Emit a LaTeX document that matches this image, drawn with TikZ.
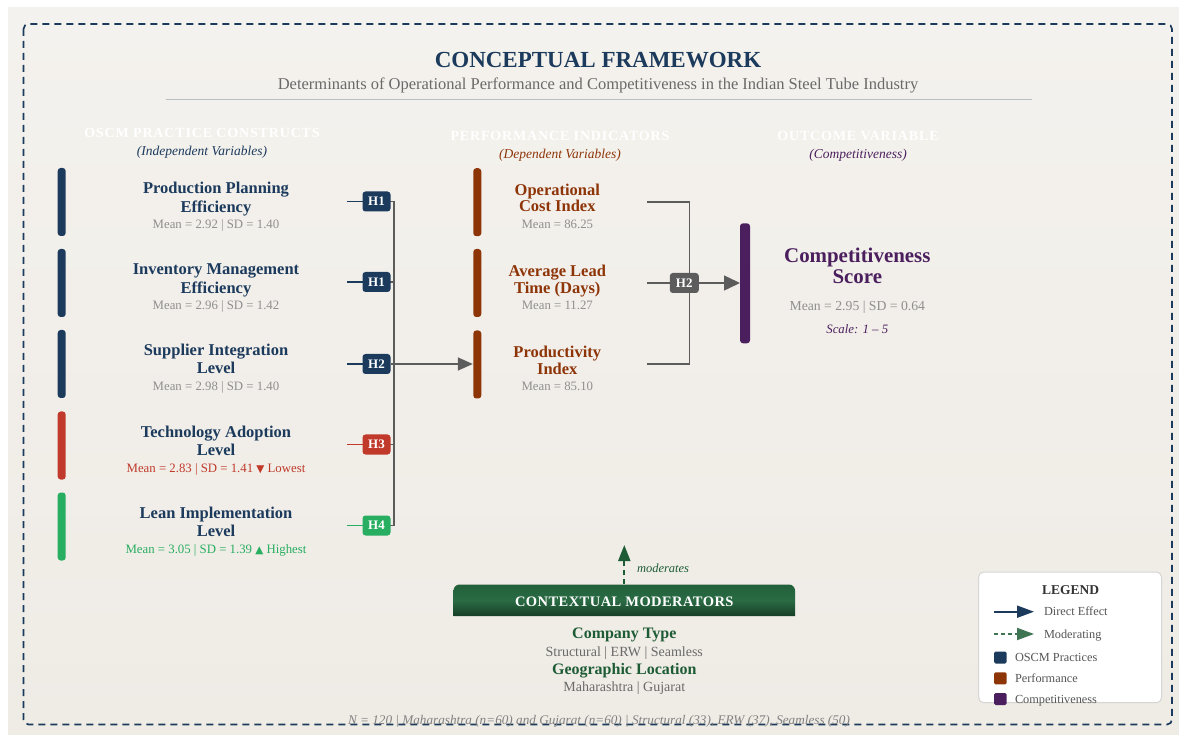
\documentclass[tikz,border=0pt]{standalone}
\usepackage{fontspec}
\setmainfont{Liberation Serif}
\newfontfamily\symfont{DejaVu Sans}
\usetikzlibrary{arrows.meta}

\definecolor{navy}{HTML}{1B3A5C}
\definecolor{lowred}{HTML}{C0392B}
\definecolor{highgreen}{HTML}{27AE60}
\definecolor{perfbrown}{HTML}{8E3508}
\definecolor{outpurple}{HTML}{4B1F5E}
\definecolor{statgray}{HTML}{8F8F8F}
\definecolor{subgray}{HTML}{6A6A6A}
\definecolor{conngray}{HTML}{5C5C5C}
\definecolor{modgreen}{HTML}{1E5C36}
\definecolor{modtop}{HTML}{22603A}
\definecolor{modmid}{HTML}{2A6B44}
\definecolor{modbot}{HTML}{163F26}
\definecolor{bgA}{HTML}{F4F2EE}
\definecolor{bgB}{HTML}{EFEBE5}
\definecolor{rulec}{HTML}{B8BEC6}
\definecolor{legtext}{HTML}{555555}
\definecolor{legborder}{HTML}{D6D6D6}

\begin{document}
\begin{tikzpicture}[x=1pt,y=-1pt,
  every node/.style={inner sep=0pt, outer sep=0pt},
  ctitle/.style={anchor=base, font=\bfseries\fontsize{16.5}{19}\selectfont},
  cstat/.style={anchor=base, font=\fontsize{12.8}{15}\selectfont, text=statgray},
  colhead/.style={anchor=base, text=white, font=\bfseries\fontsize{14}{16}\selectfont\addfontfeature{LetterSpace=6}},
  colsub/.style={anchor=base, font=\itshape\fontsize{13.5}{15}\selectfont},
  sidebar/.style={rectangle, rounded corners=3pt, minimum width=8pt},
  hbox/.style={rectangle, rounded corners=3pt, minimum width=28pt, minimum height=20pt, text=white, font=\bfseries\fontsize{13}{15}\selectfont},
  conn/.style={draw=conngray, line width=1.5pt},
  bigtip/.style={-{Triangle[length=15pt,width=13pt]}},
  legtxt/.style={anchor=base west, text=legtext, font=\fontsize{12.3}{14}\selectfont},
  modtxt/.style={anchor=base, text=modgreen, font=\bfseries\fontsize{16}{18}\selectfont},
  modsub/.style={anchor=base, text=subgray, font=\fontsize{14}{16}\selectfont},
]
\useasboundingbox (0,0) rectangle (1179,735);
\fill[white] (0,0) rectangle (1179,735);
\shade[top color=bgA, bottom color=bgB] (8,8) rectangle (1179,735);

% frame
\draw[navy, line width=1.7pt, dash pattern=on 7pt off 5pt, rounded corners=5pt] (23.5,24) rectangle (1172,724.5);

% heading
\node[anchor=base, text=navy, font=\bfseries\fontsize{23}{27}\selectfont] (title) at (598,67.6) {CONCEPTUAL FRAMEWORK};
\node[anchor=base, text=subgray, font=\fontsize{16.5}{19}\selectfont] (subtitle) at (598,90) {Determinants of Operational Performance and Competitiveness in the Indian Steel Tube Industry};
\draw[rulec, line width=1pt] (165.5,99.5) -- (1032,99.5);

% column headings
\node[colhead] (hdA) at (202,138) {OSCM PRACTICE CONSTRUCTS};
\node[colsub, text=navy] (sbA) at (202,155.5) {(Independent Variables)};
\node[colhead] (hdB) at (560,140.5) {PERFORMANCE INDICATORS};
\node[colsub, text=perfbrown] (sbB) at (560,158.5) {(Dependent Variables)};
\node[colhead] (hdC) at (858,140.5) {OUTCOME VARIABLE};
\node[colsub, text=outpurple] (sbC) at (858,158.5) {(Competitiveness)};

% OSCM practice constructs
\node[sidebar, fill=navy, minimum height=68pt] (b1) at (61.7,202) {};
\node[sidebar, fill=navy, minimum height=68pt] (b2) at (61.7,283) {};
\node[sidebar, fill=navy, minimum height=68pt] (b3) at (61.7,364) {};
\node[sidebar, fill=lowred, minimum height=68pt] (b4) at (61.7,445.5) {};
\node[sidebar, fill=highgreen, minimum height=68pt] (b5) at (61.7,526.5) {};

\node[ctitle, text=navy] (c1a) at (216,193.8) {Production Planning};
\node[ctitle, text=navy] (c1b) at (216,212.2) {Efficiency};
\node[cstat] (c1s) at (216,228.5) {Mean = 2.92 | SD = 1.40};

\node[ctitle, text=navy] (c2a) at (216,274.8) {Inventory Management};
\node[ctitle, text=navy] (c2b) at (216,293.2) {Efficiency};
\node[cstat] (c2s) at (216,309.9) {Mean = 2.96 | SD = 1.42};

\node[ctitle, text=navy] (c3a) at (216,355.8) {Supplier Integration};
\node[ctitle, text=navy] (c3b) at (216,374) {Level};
\node[cstat] (c3s) at (216,390.7) {Mean = 2.98 | SD = 1.40};

\node[ctitle, text=navy] (c4a) at (216,437.8) {Technology Adoption};
\node[ctitle, text=navy] (c4b) at (216,455.5) {Level};
\node[cstat, text=lowred] (c4s) at (216,472.2) {Mean = 2.83 | SD = 1.41 {\symfont\fontsize{10.5}{12}\selectfont ▼} Lowest};

\node[ctitle, text=navy] (c5a) at (216,518.8) {Lean Implementation};
\node[ctitle, text=navy] (c5b) at (216,536.8) {Level};
\node[cstat, text=highgreen] (c5s) at (216,553.5) {Mean = 3.05 | SD = 1.39 {\symfont\fontsize{10.5}{12}\selectfont ▲} Highest};

% hypothesis paths into the bus
\coordinate (s1) at (347,201.5);
\coordinate (s2) at (347,282);
\coordinate (s3) at (347,364);
\coordinate (s4) at (347,444.5);
\coordinate (s5) at (347,525.5);
\coordinate (bus1) at (394,201.5);
\coordinate (bus2) at (394,282);
\coordinate (bus3) at (394,364);
\coordinate (bus4) at (394,444.5);
\coordinate (bus5) at (394,525.5);

% performance indicators
\node[sidebar, fill=perfbrown, minimum height=68pt] (m1) at (477.3,202.2) {};
\node[sidebar, fill=perfbrown, minimum height=68pt] (m2) at (477.3,283) {};
\node[sidebar, fill=perfbrown, minimum height=68pt] (m3) at (477.3,364.5) {};

\draw[conn] (bus1) -- (bus5);
\draw[conn] (bus1) -- ++(-4,0);
\draw[conn] (bus2) -- ++(-4,0);
\draw[conn] (bus4) -- ++(-4,0);
\draw[conn] (bus5) -- ++(-4,0);
\draw[conn, bigtip, shorten >=0.5pt] (bus3) -- (bus3 -| m3.west);

\node[hbox, fill=navy] (h1) at (376.5,201.5) {H1};
\node[hbox, fill=navy] (h2) at (376.5,282) {H1};
\node[hbox, fill=navy] (h3) at (376.5,364) {H2};
\node[hbox, fill=lowred] (h4) at (376.5,444.5) {H3};
\node[hbox, fill=highgreen] (h5) at (376.5,525.5) {H4};

\draw[navy, line width=1.5pt] (s1) -- (h1.west);
\draw[navy, line width=1.5pt] (s2) -- (h2.west);
\draw[navy, line width=1.5pt] (s3) -- (h3.west);
\draw[lowred, line width=1.5pt] (s4) -- (h4.west);
\draw[highgreen, line width=1.5pt] (s5) -- (h5.west);
\draw[conn] (h1.east) -- (bus1);
\draw[conn] (h2.east) -- (bus2);
\draw[conn] (h3.east) -- (bus3);
\draw[conn] (h4.east) -- (bus4);
\draw[conn] (h5.east) -- (bus5);

\node[ctitle, text=perfbrown] (p1a) at (557.3,195.3) {Operational};
\node[ctitle, text=perfbrown] (p1b) at (557.3,212) {Cost Index};
\node[cstat] (p1s) at (557.3,228.2) {Mean = 86.25};

\node[ctitle, text=perfbrown] (p2a) at (557.3,276.3) {Average Lead};
\node[ctitle, text=perfbrown] (p2b) at (557.3,293.6) {Time (Days)};
\node[cstat] (p2s) at (557.3,309.9) {Mean = 11.27};

\node[ctitle, text=perfbrown] (p3a) at (557.3,357.6) {Productivity};
\node[ctitle, text=perfbrown] (p3b) at (557.3,374.6) {Index};
\node[cstat] (p3s) at (557.3,390.9) {Mean = 85.10};

% outcome
\node[sidebar, fill=outpurple, minimum width=10pt, minimum height=120pt] (cbar) at (745,283.3) {};

\coordinate (r1) at (647,202);
\coordinate (r2) at (647,283);
\coordinate (r3) at (647,364);
\draw[conn] (r1) -- ++(42.3,0) |- (r3);
\node[hbox, fill=conngray, minimum width=29pt] (hh) at (684.3,283) {H2};
\draw[conn] (r2) -- (hh.west);
\draw[conn, -{Triangle[length=16pt,width=15pt]}] (hh.east) -- (hh.east -| cbar.west);

\node[anchor=base, text=outpurple, font=\bfseries\fontsize{20.9}{24}\selectfont] (o1a) at (857.3,262.8) {Competitiveness};
\node[anchor=base, text=outpurple, font=\bfseries\fontsize{20.9}{24}\selectfont] (o1b) at (857.3,284) {Score};
\node[anchor=base, text=statgray, font=\fontsize{13.7}{16}\selectfont] (o1s) at (857.3,310.2) {Mean = 2.95 | SD = 0.64};
\node[anchor=base, text=outpurple, font=\itshape\fontsize{12.8}{15}\selectfont] (o1c) at (857.3,333.5) {Scale: 1 – 5};

% contextual moderators
\shade[top color=modtop, bottom color=modbot, middle color=modmid]
  (453.5,616) [rounded corners=6pt]-- (453.5,584.5) -- (795,584.5) [sharp corners]-- (795,616) -- cycle;
\node[minimum width=341.5pt, minimum height=31.5pt] (modbox) at (624.3,600.2) {};
\node[anchor=base, text=white, font=\bfseries\fontsize{14.5}{17}\selectfont\addfontfeature{LetterSpace=3}] (modlbl) at (624.3,606) {CONTEXTUAL MODERATORS};
\coordinate (modtip) at (624.3,545);
\draw[modgreen, line width=2pt, dash pattern=on 5pt off 4pt, -{Triangle[length=16pt,width=12pt]}] (modbox.north) -- (modtip);
\node[anchor=base west, text=modgreen, font=\itshape\fontsize{12.5}{14}\selectfont] (modword) at (637,572.3) {moderates};

\node[modtxt] (mt1) at (624.3,638) {Company Type};
\node[modsub] (ms1) at (624.3,656.2) {Structural | ERW | Seamless};
\node[modtxt] (mt2) at (624.3,674.6) {Geographic Location};
\node[modsub] (ms2) at (624.3,691.2) {Maharashtra | Gujarat};

% legend
\draw[fill=white, draw=legborder, line width=1pt, rounded corners=5pt] (978.7,572) rectangle (1161.5,702.7);
\node[anchor=base, text=black!80, font=\bfseries\fontsize{13.5}{15}\selectfont] (legtitle) at (1070.7,594.6) {LEGEND};
\coordinate (la1) at (994,611.7);
\coordinate (lb1) at (1034,611.7);
\coordinate (la2) at (994,634);
\coordinate (lb2) at (1034,634);
\draw[navy, line width=2pt, -{Triangle[length=17pt,width=12pt]}] (la1) -- (lb1);
\draw[modgreen!85!white, line width=2pt, dash pattern=on 4pt off 3pt, -{Triangle[length=17pt,width=12pt]}] (la2) -- (lb2);
\node[legtxt] (lt1) at (1044,615.8) {Direct Effect};
\node[legtxt] (lt2) at (1044,638.2) {Moderating};
\fill[navy, rounded corners=1.5pt] (994,651.5) rectangle (1006.7,663.5);
\fill[perfbrown, rounded corners=1.5pt] (994,672.3) rectangle (1006.7,684.3);
\fill[outpurple, rounded corners=1.5pt] (994,693) rectangle (1006.7,705);
\node[legtxt] (lt3) at (1015,661.8) {OSCM Practices};
\node[legtxt] (lt4) at (1015,682.3) {Performance};
\node[legtxt] (lt5) at (1015,703.3) {Competitiveness};

% sample note
\node[anchor=base, text=statgray!90!black, font=\itshape\fontsize{13.2}{15}\selectfont] (note) at (599,724.2) {N = 120 | Maharashtra (n=60) and Gujarat (n=60) | Structural (33), ERW (37), Seamless (50)};
\end{tikzpicture}
\end{document}
